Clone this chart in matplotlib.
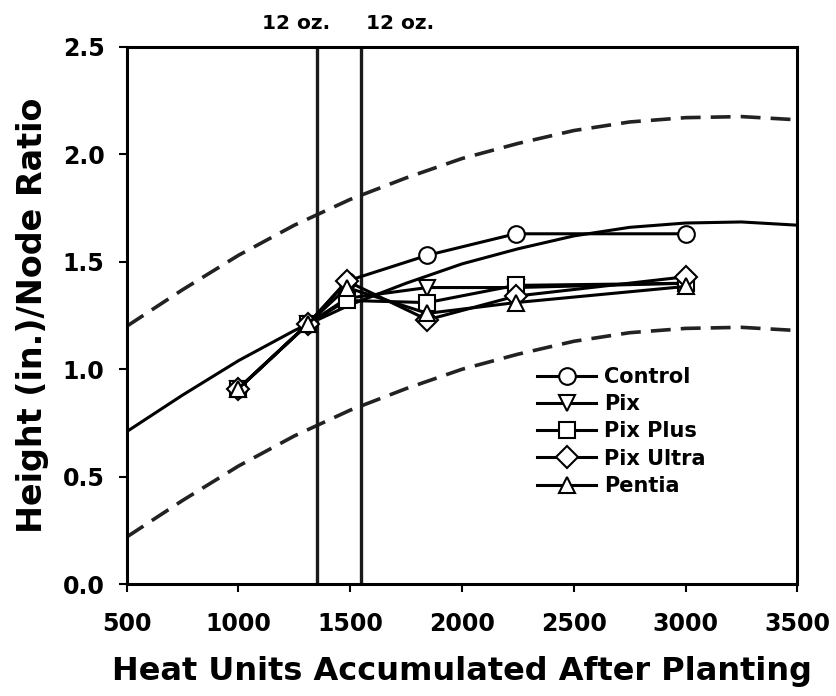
import matplotlib
matplotlib.use("Agg")
import matplotlib.pyplot as plt
import numpy as np

# heat units where the measurements were taken
heat_units = [1000, 1310, 1485, 1845, 2240, 3000]

# height / node ratio for each treatment
control = [0.91, 1.21, 1.41, 1.53, 1.63, 1.63]
pix = [0.91, 1.21, 1.33, 1.38, 1.38, 1.40]
pix_plus = [0.91, 1.21, 1.32, 1.31, 1.39, 1.40]
pix_ultra = [0.91, 1.21, 1.41, 1.23, 1.34, 1.43]
pentia = [0.91, 1.21, 1.38, 1.26, 1.31, 1.385]

# reference curve (solid) and its upper / lower bands (dashed)
curve_x = [500, 750, 1000, 1250, 1500, 1750, 2000, 2250, 2500, 2750, 3000, 3250, 3500]
curve_mid = [0.71, 0.88, 1.04, 1.18, 1.30, 1.40, 1.49, 1.56, 1.62, 1.66, 1.68, 1.685, 1.67]
curve_hi = [1.20, 1.37, 1.53, 1.67, 1.79, 1.89, 1.98, 2.05, 2.11, 2.15, 2.17, 2.175, 2.16]
curve_lo = [0.22, 0.39, 0.55, 0.69, 0.81, 0.91, 1.00, 1.07, 1.13, 1.17, 1.19, 1.195, 1.18]

# application timings (12 oz. each) and where their labels sit
app_x = [1350, 1550]
app_label_x = [1257, 1723]
app_labels = ["12 oz.", "12 oz."]

series = [
    ("Control", control, "o"),
    ("Pix", pix, "v"),
    ("Pix Plus", pix_plus, "s"),
    ("Pix Ultra", pix_ultra, "D"),
    ("Pentia", pentia, "^"),
]

fig = plt.figure(figsize=(8.36, 6.96), dpi=100)
ax = fig.add_axes([0.1516, 0.1605, 0.8021, 0.7724])

ax.plot(curve_x, curve_mid, color="black", lw=2.2, zorder=2)
ax.plot(curve_x, curve_hi, color="#222222", lw=2.6, ls=(0, (5.5, 2.8)), zorder=2)
ax.plot(curve_x, curve_lo, color="#222222", lw=2.6, ls=(0, (5.5, 2.8)), zorder=2)

for xv in app_x:
    ax.axvline(xv, color="#1a1a1a", lw=2.4, zorder=2)

for lx, txt in zip(app_label_x, app_labels):
    ax.text(lx, 2.61, txt, ha="center", va="center", fontsize=14.5,
            fontweight="bold", clip_on=False)

for name, vals, mk in series:
    ax.plot(heat_units, vals, color="black", lw=2.2, marker=mk,
            markersize=12 if mk != "D" else 11, markerfacecolor="white",
            markeredgecolor="black", markeredgewidth=1.5, label=name, zorder=3)

ax.set_xlim(500, 3500)
ax.set_ylim(0, 2.5)
ax.set_xticks([500, 1000, 1500, 2000, 2500, 3000, 3500])
ax.set_yticks([0.0, 0.5, 1.0, 1.5, 2.0, 2.5])
ax.set_yticklabels(["0.0", "0.5", "1.0", "1.5", "2.0", "2.5"])

for lbl in ax.get_xticklabels() + ax.get_yticklabels():
    lbl.set_fontweight("bold")
    lbl.set_fontsize(17)

ax.tick_params(direction="out", length=6, width=1.5)
ax.tick_params(axis="x", pad=14)
ax.tick_params(axis="y", pad=10)
for sp in ax.spines.values():
    sp.set_linewidth(2.2)

ax.set_xlabel("Heat Units Accumulated After Planting", fontsize=23,
              fontweight="bold", labelpad=14)
ax.set_ylabel("Height (in.)/Node Ratio", fontsize=24, fontweight="bold",
              labelpad=10)

leg = ax.legend(loc="upper left", bbox_to_anchor=(0.60, 0.42), frameon=False,
                handlelength=2.8, handletextpad=0.4, labelspacing=0.35,
                borderaxespad=0, prop={"weight": "bold", "size": 15})

fig.savefig("out.png", dpi=100)
